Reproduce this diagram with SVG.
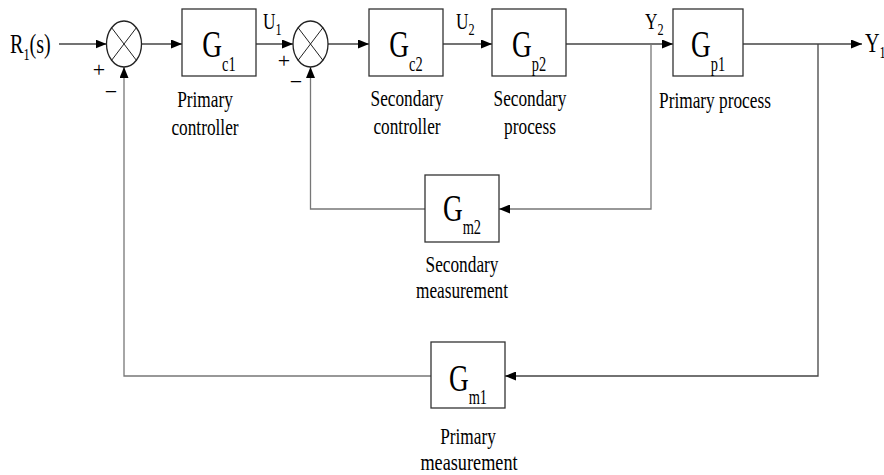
<svg xmlns="http://www.w3.org/2000/svg" width="884" height="475" viewBox="0 0 884 475">
<style>
text{font-family:"Liberation Serif","Times New Roman",serif;fill:#000}
.lbl{font-size:24px;text-anchor:middle}
.g{font-size:38px;text-anchor:middle}
.sub{font-size:20px}
.ssub{font-size:17px}
.sig{font-size:24px}
.big{font-size:28px}
.sign{font-size:22px;text-anchor:middle}
.box{fill:#fff;stroke:#333;stroke-width:1.3}
.sum{fill:#fff;stroke:#222;stroke-width:1.3}
.x{stroke:#222;stroke-width:1}
.ln{fill:none;stroke:#444;stroke-width:1.3}
.fb{fill:none;stroke:#777;stroke-width:1.3}
</style>
<defs>
<marker id="ah" markerUnits="userSpaceOnUse" markerWidth="11" markerHeight="9" refX="11" refY="4.5" orient="auto">
<path d="M0,0 L11,4.5 L0,9 z" fill="#000"/>
</marker>
</defs>

<g id="connectors">
<path class="ln" d="M59,44 H106.5" marker-end="url(#ah)"/>
<path class="ln" d="M141.5,44 H182" marker-end="url(#ah)"/>
<path class="ln" d="M256,44 H293" marker-end="url(#ah)"/>
<path class="ln" d="M328,44 H369" marker-end="url(#ah)"/>
<path class="ln" d="M443,44 H492" marker-end="url(#ah)"/>
<path class="ln" d="M566,44 H673" marker-end="url(#ah)"/>
<path class="ln" d="M743,44 H862" marker-end="url(#ah)"/>
<path class="fb" d="M651,44 V209 H499" marker-end="url(#ah)"/>
<path class="fb" d="M425,209 H310.5 V67" marker-end="url(#ah)"/>
<path class="ln" d="M818,44 V376 H505" marker-end="url(#ah)"/>
<path class="fb" d="M431,376 H124 V67" marker-end="url(#ah)"/>
</g>

<g id="input">
<text class="big" transform="translate(10,53) scale(0.72,1)">R<tspan class="ssub" dy="7">1</tspan><tspan dy="-7">(s)</tspan></text>
</g>

<g id="sum1">
<ellipse class="sum" cx="124" cy="44" rx="17.5" ry="23"/>
<line class="x" x1="111.6" y1="27.7" x2="136.4" y2="60.3"/>
<line class="x" x1="136.4" y1="27.7" x2="111.6" y2="60.3"/>
<text class="sign" x="99" y="77">+</text>
<text class="sign" x="111" y="99">−</text>
</g>

<g id="Gc1">
<rect class="box" x="182" y="9" width="74" height="67"/>
<text class="g" transform="translate(219,57) scale(0.72,1)">G<tspan class="sub" dy="14">c1</tspan></text>
<text class="lbl" transform="translate(205,107) scale(0.72,1)">Primary</text>
<text class="lbl" transform="translate(205,135) scale(0.72,1)">controller</text>
</g>

<g id="U1">
<text class="sig" transform="translate(263,29) scale(0.72,1)">U<tspan class="ssub" dy="6">1</tspan></text>
</g>

<g id="sum2">
<ellipse class="sum" cx="310.5" cy="44" rx="17.5" ry="23"/>
<line class="x" x1="298.1" y1="27.7" x2="322.9" y2="60.3"/>
<line class="x" x1="322.9" y1="27.7" x2="298.1" y2="60.3"/>
<text class="sign" x="284" y="68">+</text>
<text class="sign" x="296" y="89">−</text>
</g>

<g id="Gc2">
<rect class="box" x="369" y="9" width="74" height="67"/>
<text class="g" transform="translate(406,57) scale(0.72,1)">G<tspan class="sub" dy="14">c2</tspan></text>
<text class="lbl" transform="translate(407,106) scale(0.72,1)">Secondary</text>
<text class="lbl" transform="translate(407,134) scale(0.72,1)">controller</text>
</g>

<g id="U2">
<text class="sig" transform="translate(456,29) scale(0.72,1)">U<tspan class="ssub" dy="6">2</tspan></text>
</g>

<g id="Gp2">
<rect class="box" x="492" y="9" width="74" height="67"/>
<text class="g" transform="translate(529,57) scale(0.72,1)">G<tspan class="sub" dy="14">p2</tspan></text>
<text class="lbl" transform="translate(530,106) scale(0.72,1)">Secondary</text>
<text class="lbl" transform="translate(530,134) scale(0.72,1)">process</text>
</g>

<g id="Y2">
<text class="sig" transform="translate(645,29) scale(0.72,1)">Y<tspan class="ssub" dy="6">2</tspan></text>
</g>

<g id="Gp1">
<rect class="box" x="673" y="9" width="70" height="67"/>
<text class="g" transform="translate(708,57) scale(0.72,1)">G<tspan class="sub" dy="14">p1</tspan></text>
<text class="lbl" transform="translate(715,108) scale(0.72,1)">Primary process</text>
</g>

<g id="Y1">
<text class="big" transform="translate(865,52) scale(0.72,1)">Y<tspan class="ssub" dy="6">1</tspan></text>
</g>

<g id="Gm2">
<rect class="box" x="425" y="175" width="74" height="67"/>
<text class="g" transform="translate(462,221) scale(0.72,1)">G<tspan class="sub" dy="13">m2</tspan></text>
<text class="lbl" transform="translate(462,272) scale(0.72,1)">Secondary</text>
<text class="lbl" transform="translate(462,298) scale(0.72,1)">measurement</text>
</g>

<g id="Gm1">
<rect class="box" x="431" y="342" width="74" height="66"/>
<text class="g" transform="translate(468,391) scale(0.72,1)">G<tspan class="sub" dy="13">m1</tspan></text>
<text class="lbl" transform="translate(468,444) scale(0.72,1)">Primary</text>
<text class="lbl" transform="translate(469,470) scale(0.76,1)">measurement</text>
</g>
</svg>
